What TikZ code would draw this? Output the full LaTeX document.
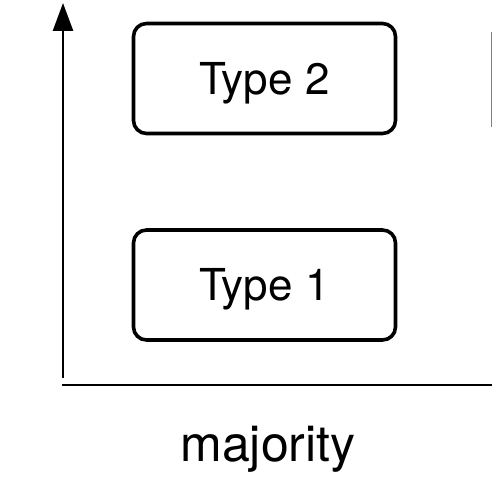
\documentclass[tikz,border=0pt]{standalone}
\usepackage{fontspec}
\setmainfont{TeX Gyre Heros}
\usetikzlibrary{arrows.meta}
\begin{document}
\begin{tikzpicture}[x=1pt,y=1pt,
  typebox/.style={draw=black,line width=3.6pt,rounded corners=13pt,minimum width=262pt,minimum height=110pt,inner sep=0pt,text height=31.5pt,text depth=0pt,font=\fontsize{44}{50}\selectfont},
  axis/.style={line width=2.6pt}]
\useasboundingbox (0,0) rectangle (492,492);
\node[typebox] (t2) at (264.5,413.5) {Type 2};
\node[typebox] (t1) at (264.5,207) {Type 1};
\coordinate (o) at (63,114);
\coordinate (top) at (63,489);
\coordinate (xend) at (492,107);
\coordinate (xstart) at (62,107);
\draw[axis,-{Triangle[length=28pt,width=20pt]}] (o) -- (top);
\draw[axis] (xstart) -- (xend);
\coordinate (g1) at (491,460);
\coordinate (g2) at (491,365);
\draw[gray,line width=1pt] (g1) -- (g2);
\node[font=\fontsize{50}{56}\selectfont] (maj) at (268,43) {majority};
\end{tikzpicture}
\end{document}
